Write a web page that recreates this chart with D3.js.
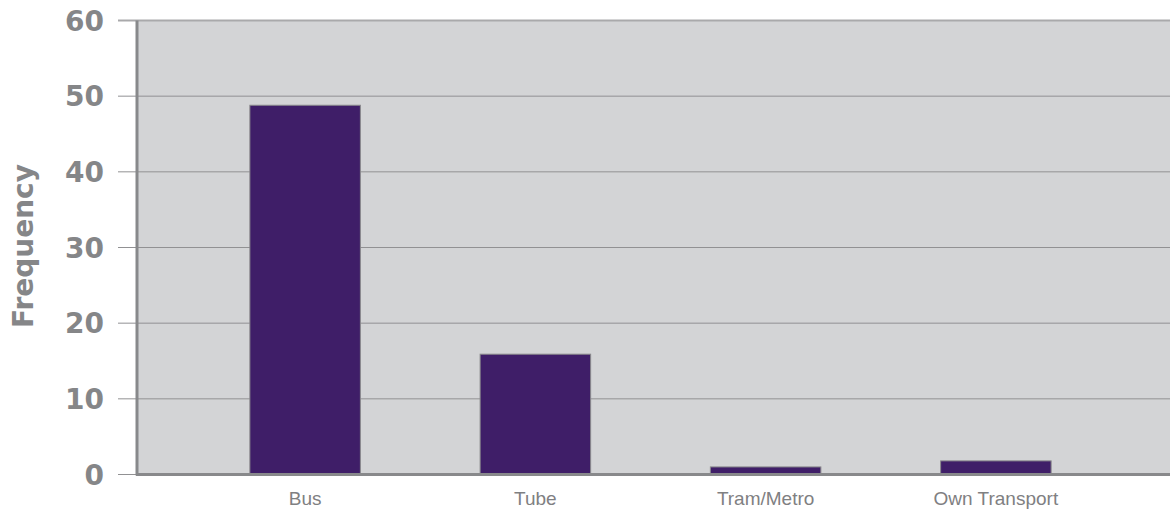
<!DOCTYPE html>
<html>
<head>
<meta charset="utf-8">
<script src="https://cdn.jsdelivr.net/npm/d3@7"></script>
<style>
  body { margin: 0; background: #fff; }
  svg text { font-family: "Liberation Sans", Arial, sans-serif; }
</style>
</head>
<body>
<script>
var categories = ["Bus", "Tube", "Tram/Metro", "Own Transport"];
var frequency = [48.8, 15.9, 1, 1.8];
var yTicks = [0, 10, 20, 30, 40, 50, 60];

var width = 1170, height = 509;
var plotLeft = 136, plotRight = 1170, plotTop = 20.5, plotBottom = 474.5;

var svg = d3.select("body")
    .append("svg")
    .attr("width", width)
    .attr("height", height);

var x = d3.scaleBand()
    .domain(categories)
    .range([190, 1111])
    .paddingInner(0.52)
    .paddingOuter(0.26);

var y = d3.scaleLinear()
    .domain([0, 60])
    .range([plotBottom, plotTop]);

// plot background
svg.append("rect")
    .attr("x", plotLeft)
    .attr("y", plotTop)
    .attr("width", plotRight - plotLeft)
    .attr("height", plotBottom - plotTop)
    .attr("fill", "#d3d4d6");

// gridlines + tick marks
svg.append("g")
    .selectAll("line")
    .data(yTicks)
    .enter().append("line")
    .attr("x1", 118)
    .attr("x2", plotRight)
    .attr("y1", function(d) { return y(d); })
    .attr("y2", function(d) { return y(d); })
    .attr("stroke", function(d) { return d == 60 ? "#a9a9ab" : "#919193"; })
    .attr("stroke-width", function(d) { return d == 60 ? 2 : 1; });

// tick labels
svg.append("g")
    .selectAll("text")
    .data(yTicks)
    .enter().append("text")
    .attr("x", 104)
    .attr("y", function(d) { return y(d) + 10; })
    .attr("text-anchor", "end")
    .attr("font-size", 28)
    .attr("font-weight", "bold")
    .style("font-family", "'DejaVu Sans', sans-serif")
    .attr("fill", "#858688")
    .text(function(d) { return d; });

// bars
svg.append("g")
    .selectAll("rect")
    .data(frequency)
    .enter().append("rect")
    .attr("x", function(d, i) { return x(categories[i]); })
    .attr("width", x.bandwidth())
    .attr("y", function(d) { return y(d); })
    .attr("height", function(d) { return y(0) - y(d); })
    .attr("fill", "#3f1e68")
    .attr("stroke", "#8a8a8c")
    .attr("stroke-width", 1);

// axis lines
svg.append("line")
    .attr("x1", 137).attr("x2", 137)
    .attr("y1", plotTop).attr("y2", plotBottom + 1)
    .attr("stroke", "#88898b")
    .attr("stroke-width", 3);

svg.append("line")
    .attr("x1", 136).attr("x2", plotRight)
    .attr("y1", plotBottom).attr("y2", plotBottom)
    .attr("stroke", "#88898b")
    .attr("stroke-width", 3);

// category labels
svg.append("g")
    .selectAll("text")
    .data(categories)
    .enter().append("text")
    .attr("x", function(d) { return x(d) + x.bandwidth() / 2; })
    .attr("y", 505)
    .attr("text-anchor", "middle")
    .attr("font-size", 19)
    .attr("fill", "#7f8082")
    .text(function(d) { return d; });

// y axis title
svg.append("text")
    .attr("transform", "translate(33,246)rotate(-90)")
    .attr("text-anchor", "middle")
    .attr("font-size", 28)
    .attr("font-weight", "bold")
    .style("font-family", "'DejaVu Sans', sans-serif")
    .attr("fill", "#858688")
    .text("Frequency");
</script>
</body>
</html>
